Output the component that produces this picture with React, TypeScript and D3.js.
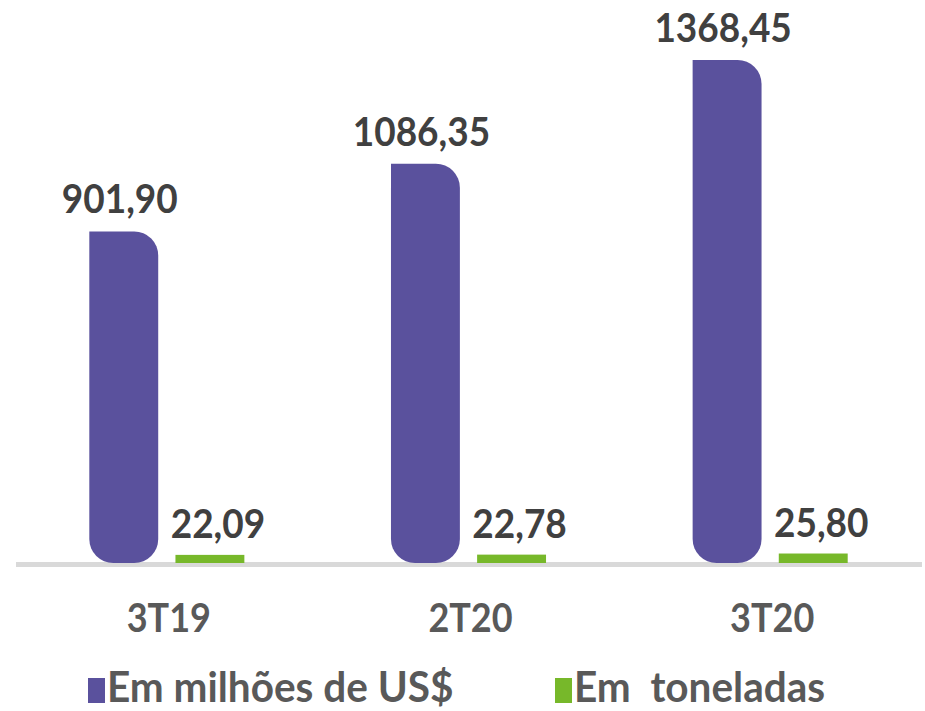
import React from "react";
import * as d3 from "d3";

const categories = ["3T19", "2T20", "3T20"];
const seriesNames = ["Em milhões de US$", "Em  toneladas"];
const usdValues = [901.9, 1086.35, 1368.45];
const tonValues = [22.09, 22.78, 25.8];
const seriesColors = ["#5A519D", "#77B82A"];

const W = 925;
const H = 711;
const FONT = "Lato, 'Open Sans', sans-serif";

function fmt(v: number) {
  return d3.format(".2f")(v).replace(".", ",");
}

function barPath(x: number, y: number, w: number, h: number, r: number) {
  const rr = Math.min(r, w / 2, h / 2);
  const p = d3.path();
  p.moveTo(x, y);
  p.lineTo(x + w - rr, y);
  p.arcTo(x + w, y, x + w, y + rr, rr);
  p.lineTo(x + w, y + h - rr);
  p.arcTo(x + w, y + h, x + w - rr, y + h, rr);
  p.lineTo(x + rr, y + h);
  p.arcTo(x, y + h, x, y + h - rr, rr);
  p.closePath();
  return p.toString();
}

function Label(props: {
  x: number;
  y: number;
  text: string;
  fill: string;
  size: number;
  anchor?: string;
  sy?: number;
}) {
  const { x, y, text, fill, size, anchor = "middle", sy = 1.1 } = props;
  return (
    <text
      transform={`translate(${x},${y}) scale(1,${sy})`}
      textAnchor={anchor}
      fontFamily={FONT}
      fontWeight={700}
      fontSize={size}
      fill={fill}
      style={{ whiteSpace: "pre" }}
    >
      {text}
    </text>
  );
}

export default function App() {
  const baseY = 563;
  const maxV = d3.max(usdValues) as number;
  const y = d3.scaleLinear().domain([0, maxV]).range([baseY, 60]);
  const x0 = d3
    .scaleBand<string>()
    .domain(categories)
    .range([16, 921])
    .paddingInner(0.486)
    .paddingOuter(0.243);
  const x1 = d3
    .scaleBand<string>()
    .domain(seriesNames)
    .range([0, x0.bandwidth()])
    .paddingInner(0.2);

  const rows = categories.map((c, i) => ({
    cat: c,
    vals: [usdValues[i], tonValues[i]],
  }));

  return (
    <svg
      width={W}
      height={H}
      style={{ position: "absolute", left: 0, top: 0, background: "#fff" }}
    >
      <line x1={16} x2={922} y1={baseY + 1.5} y2={baseY + 1.5} stroke="#D9D9D9" strokeWidth={5} />
      {rows.map((row) => (
        <g key={row.cat} transform={`translate(${x0(row.cat)},0)`}>
          {row.vals.map((v, si) => {
            const bx = x1(seriesNames[si]) as number;
            const bw = x1.bandwidth();
            const top = y(v);
            const h = baseY - top;
            return (
              <g key={si}>
                {si === 0 ? (
                  <path d={barPath(bx, top, bw, h, 24)} fill={seriesColors[si]} />
                ) : (
                  <rect x={bx} y={top} width={bw} height={h} fill={seriesColors[si]} />
                )}
                <Label
                  x={bx + bw / 2 + (si === 0 ? -4 : 8)}
                  y={top - (si === 0 ? 18 : 17)}
                  text={fmt(v)}
                  fill="#404040"
                  size={37}
                />
              </g>
            );
          })}
          <Label x={x0.bandwidth() / 2 + 2} y={632} text={row.cat} fill="#595959" size={36} />
        </g>
      ))}
      {seriesNames.map((s, i) => {
        const lx = i === 0 ? 88 : 555;
        return (
          <g key={s}>
            <rect x={lx} y={678} width={17} height={25} fill={seriesColors[i]} />
            <Label x={lx + 19} y={702} text={s} fill="#595959" size={40.5} anchor="start" sy={1.03} />
          </g>
        );
      })}
    </svg>
  );
}
